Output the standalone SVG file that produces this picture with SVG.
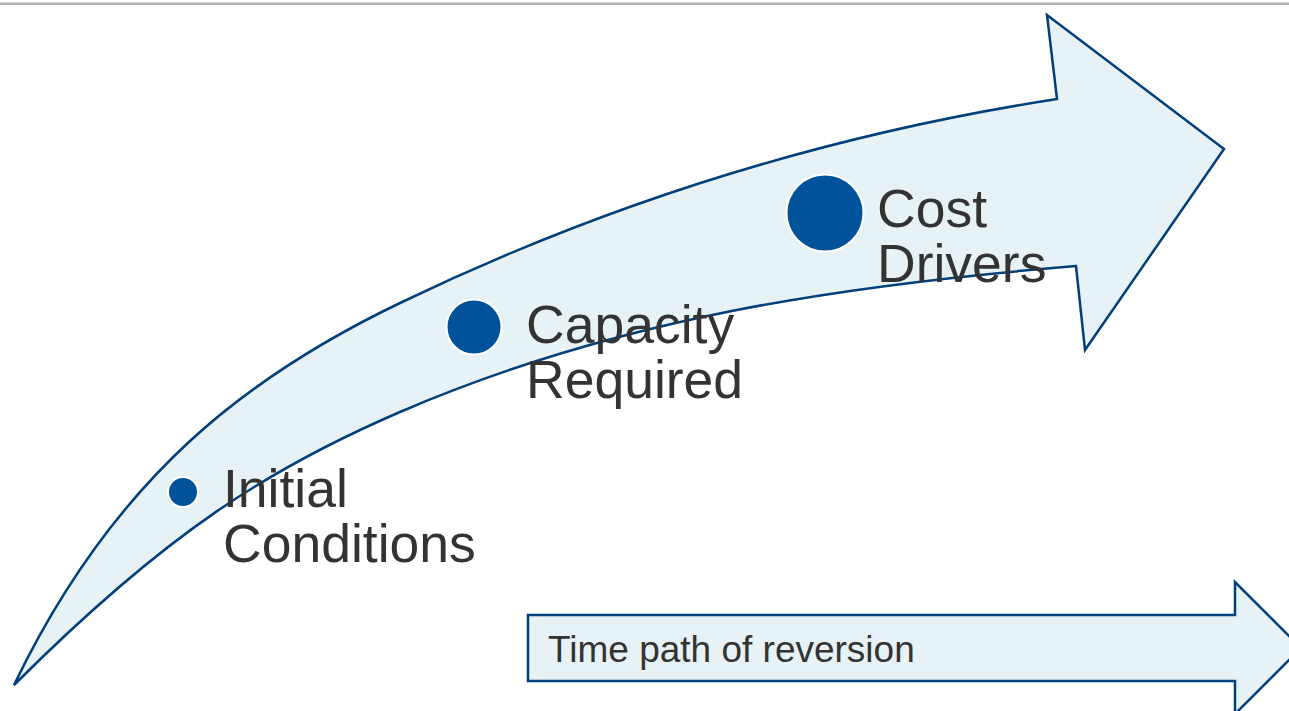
<svg xmlns="http://www.w3.org/2000/svg" width="1289" height="711" viewBox="0 0 1289 711">
  <defs>
    <style>
      .band { fill: #e6f2f5; stroke: #003f7a; stroke-width: 2.5; stroke-linejoin: miter; }
      .dot { fill: #00529b; stroke: #ffffff; stroke-width: 2; }
      .label { font-family: "Liberation Sans", Arial, sans-serif; font-size: 53.5px; fill: #333333; }
      .small { font-family: "Liberation Sans", Arial, sans-serif; font-size: 37px; fill: #333333; }
    </style>
  </defs>

  <rect width="1289" height="711" fill="#ffffff"/>
  <!-- header rule -->
  <rect x="0" y="2.5" width="1289" height="2.5" fill="#b0b0b0"/>

  <g id="arrows">
    <!-- curved progress arrow -->
    <path id="curved-arrow" class="band"
          d="M 14,685
             C 115,475 250,375 400,303
             C 620,197 837,133 1057,99
             L 1047,15
             L 1224,149
             L 1085,350
             L 1076,266
             C 846,285 620,317 400,412
             C 270,468 167,532 14,685 Z"/>
    <!-- straight time arrow -->
    <path id="time-arrow" class="band"
          d="M 528,615 L 1235,615 L 1235,582 L 1301,648 L 1235,714 L 1235,681 L 528,681 Z"/>
  </g>

  <g id="node-initial">
    <circle class="dot" cx="183" cy="492" r="15"/>
    <text class="label" x="223" y="507">Initial</text>
    <text class="label" x="223" y="562">Conditions</text>
  </g>

  <g id="node-capacity">
    <circle class="dot" cx="474" cy="327" r="27.5"/>
    <text class="label" x="526" y="343">Capacity</text>
    <text class="label" x="526" y="398">Required</text>
  </g>

  <g id="node-cost">
    <circle class="dot" cx="825" cy="213" r="38.5"/>
    <text class="label" x="877" y="227">Cost</text>
    <text class="label" x="877" y="282">Drivers</text>
  </g>

  <g id="time-label">
    <text class="small" x="548" y="662">Time path of reversion</text>
  </g>
</svg>
